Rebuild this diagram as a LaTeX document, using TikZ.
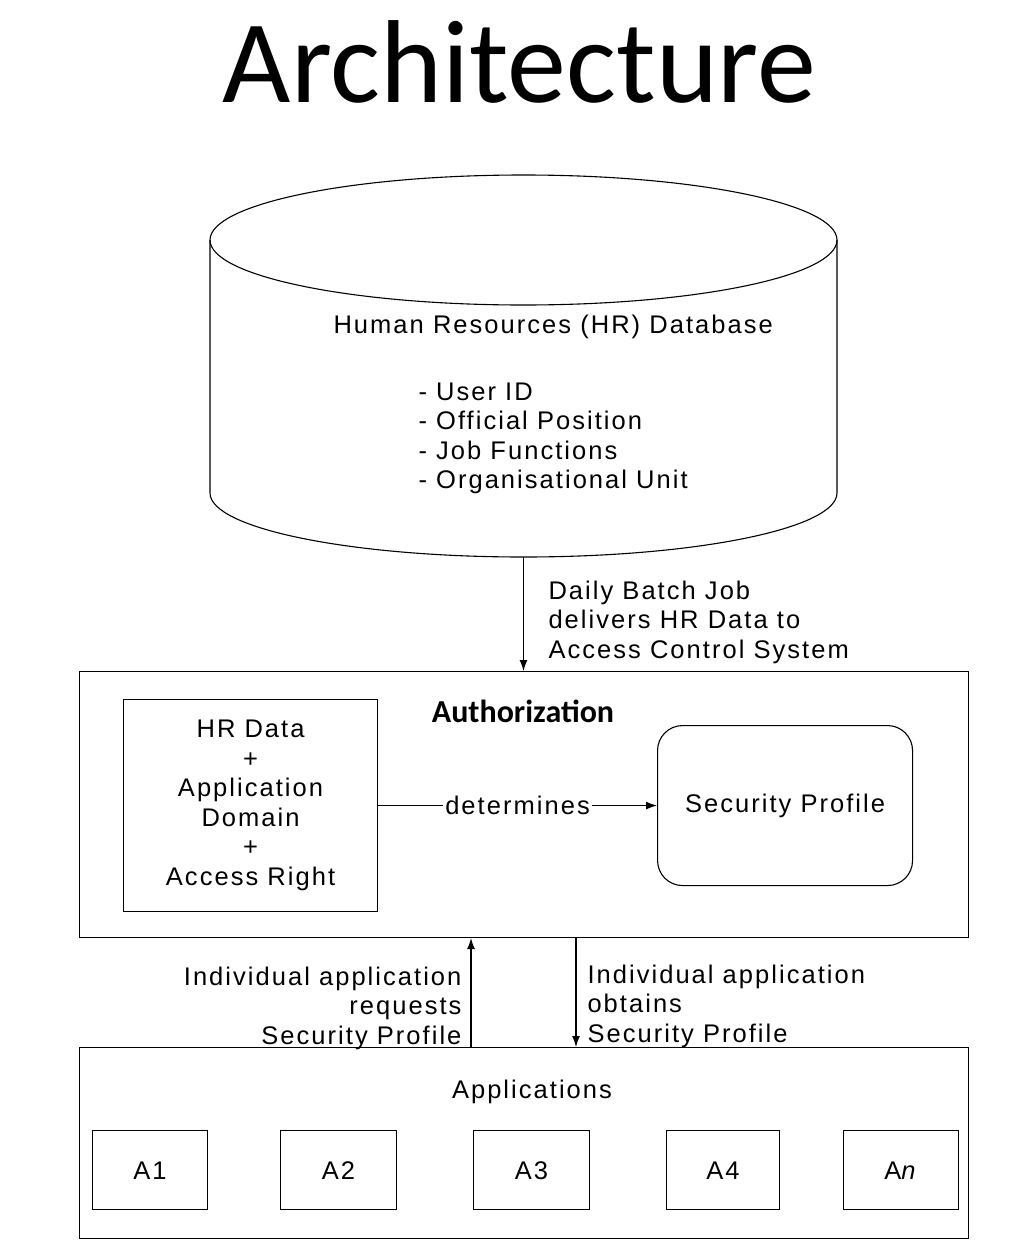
\documentclass[tikz,border=0pt]{standalone}
\usepackage{fontspec}
\setmainfont{Liberation Sans}[LetterSpace=8]
\newfontfamily\titlefont{Carlito}
\usetikzlibrary{arrows.meta}
\newcommand\dfont{\fontsize{25.5}{29.5}\selectfont}
\begin{document}
\begin{tikzpicture}[x=1pt,y=-1pt,line width=1.1pt,
  lbl/.style={font=\dfont, inner sep=0pt},
  box/.style={draw, inner sep=0pt, anchor=north west},
  abox/.style={box, minimum height=79pt, font=\dfont, text height=18pt, text depth=0pt},
  arr/.style={-{Latex[length=11pt,width=8pt]}}]
\useasboundingbox (0,0) rectangle (1024,1256);
% title
\node[font=\titlefont\fontsize{118}{118}\selectfont, anchor=base, inner sep=0pt] (title) at (519.5,102) {Architecture};
% database cylinder
\draw (210,240) -- (210,493) arc[start angle=180,end angle=0,x radius=313.5,y radius=64] -- (837,240);
\draw (523.5,240) ellipse [x radius=313.5, y radius=65];
\coordinate (dbbot) at (523.5,557);
\node[lbl, anchor=base west] (hrtitle) at (333,333) {Human Resources (HR) Database};
\node[lbl, anchor=base west, align=left] (hrlist) at (418,488.5) {- User ID\\- Official Position\\- Job Functions\\- Organisational Unit};
% authorization
\node[box, minimum width=889pt, minimum height=266pt] (auth) at (79,671) {};
\node[font=\titlefont\bfseries\fontsize{32}{32}\selectfont, anchor=base, inner sep=0pt] (authlbl) at (523,722) {Authorization};
\node[box, minimum width=254pt, minimum height=212pt, align=center, font=\dfont] (hrbox) at (123,699) {HR Data\\+\\Application\\Domain\\+\\Access Right};
\node[box, rounded corners=25pt, minimum width=255pt, minimum height=160pt, font=\dfont] (secp) at (657,725) {Security Profile};
\draw[arr] (hrbox.east) -- node[lbl, fill=white, inner sep=2pt] (det) {determines} (secp.west);
\draw[arr] (dbbot) -- (auth.north -| dbbot);
\node[lbl, anchor=base west, align=left] (batch) at (548,658) {Daily Batch Job\\delivers HR Data to\\Access Control System};
% applications
\node[box, minimum width=889pt, minimum height=191pt] (apps) at (79,1047) {};
\node[lbl, anchor=base] (appslbl) at (532,1098) {Applications};
\node[abox, minimum width=115pt] (a1) at (92,1130) {A1};
\node[abox, minimum width=116pt] (a2) at (280,1130) {A2};
\node[abox, minimum width=116pt] (a3) at (473,1130) {A3};
\node[abox, minimum width=113pt] (a4) at (666,1130) {A4};
\node[abox, minimum width=115pt] (an) at (843,1130) {A\textit{n}};
% request / obtain arrows
\coordinate (upx) at (471,1000);
\coordinate (dnx) at (576,1000);
\draw[arr] (apps.north -| upx) -- (auth.south -| upx);
\draw[arr] (auth.south -| dnx) -- (apps.north -| dnx);
\node[lbl, anchor=base east, align=right] (req) at (462,1044) {Individual application\\requests\\Security Profile};
\node[lbl, anchor=base west, align=left] (obt) at (587,1042) {Individual application\\obtains\\Security Profile};
\end{tikzpicture}
\end{document}
